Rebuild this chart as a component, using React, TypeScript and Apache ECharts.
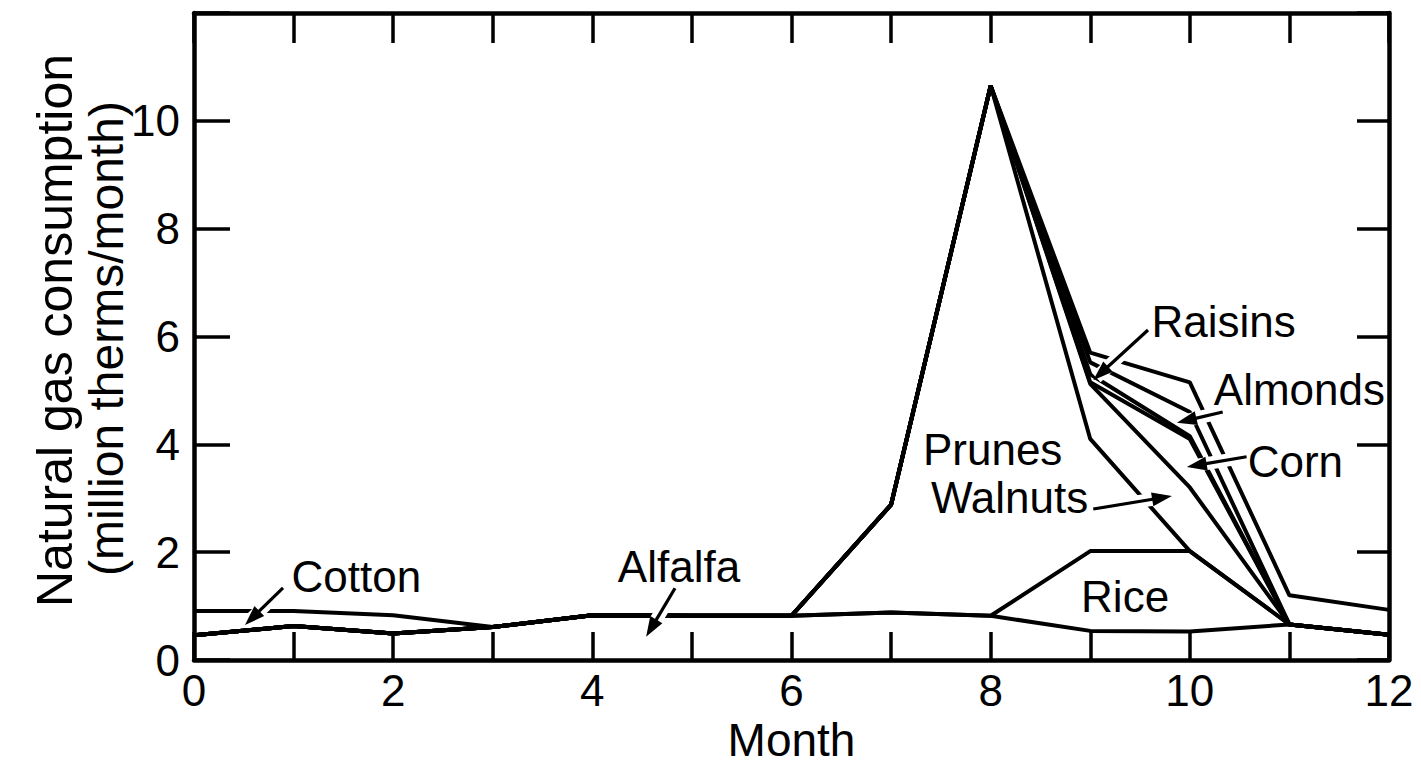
import React, { useEffect, useRef } from "react";
import * as echarts from "echarts";

// Month index (0..12)
const months = [0, 1, 2, 3, 4, 5, 6, 7, 8, 9, 10, 11, 12];

// Natural gas consumption by crop (million therms / month), stacked bottom to top
const alfalfa = [0.46, 0.63, 0.49, 0.61, 0.83, 0.82, 0.82, 0.88, 0.82, 0.54, 0.53, 0.66, 0.47];
const rice = [0, 0, 0, 0, 0, 0, 0, 0, 0, 1.48, 1.49, 0, 0];
const prunes = [0, 0, 0, 0, 0, 0, 0, 2.0, 9.83, 2.08, 0, 0, 0];
const walnuts = [0, 0, 0, 0, 0, 0, 0, 0, 0, 1.02, 1.18, 0, 0];
const corn = [0, 0, 0, 0, 0, 0, 0, 0, 0, 0.03, 0.9, 0, 0];
const raisins = [0, 0, 0, 0, 0, 0, 0, 0, 0, 0.15, 0.05, 0, 0];
const almonds = [0, 0, 0, 0, 0, 0, 0, 0, 0, 0.22, 0.45, 0, 0];
const cotton = [0.45, 0.28, 0.34, 0, 0, 0, 0, 0, 0, 0.18, 0.55, 0.54, 0.46];

const seriesNames = ["Alfalfa", "Rice", "Prunes", "Walnuts", "Corn", "Raisins", "Almonds", "Cotton"];
const seriesValues = [alfalfa, rice, prunes, walnuts, corn, raisins, almonds, cotton];

const xTickLabels = ["0", "2", "4", "6", "8", "10", "12"];
const yTickLabels = ["0", "2", "4", "6", "8", "10"];

const xTitle = "Month";
const yTitleLines = ["Natural gas consumption", "(million therms/month)"];

// Annotation labels placed in data coordinates [month, value]
const labelTexts = ["Cotton", "Alfalfa", "Prunes", "Walnuts", "Raisins", "Almonds", "Corn", "Rice"];
const labelAnchors: number[][] = [
  [1.63, 1.54],
  [4.87, 1.74],
  [8.02, 3.9],
  [8.19, 3.01],
  [10.34, 6.27],
  [11.1, 5.01],
  [11.06, 3.69],
  [9.35, 1.17],
];
// Arrows: [tailMonth, tailValue, tipMonth, tipValue]
const arrows: number[][] = [
  [0.894, 1.336, 0.512, 0.649],
  [4.83, 1.33, 4.54, 0.43],
  [9.03, 2.8, 9.82, 3.04],
  [9.58, 6.12, 9.03, 5.19],
  [10.33, 4.6, 9.87, 4.4],
  [10.57, 3.77, 9.97, 3.58],
];

const FONT = "'Liberation Sans', Arial, Helvetica, sans-serif";

export default function App() {
  const ref = useRef<HTMLDivElement>(null);

  useEffect(() => {
    if (!ref.current) return;
    const chart = echarts.init(ref.current, null, { renderer: "svg" });

    const black = "#000";
    const axisLineStyle = { color: black, width: 4.5 };
    const tickStyle = { color: black, width: 3.5 };

    // cumulative (stacked) top boundary of each band
    const running = months.map(() => 0);
    const cumulative = seriesValues.map((vals) =>
      vals.map((v, j) => {
        running[j] += v;
        return Math.round(running[j] * 1000) / 1000;
      })
    );

    chart.setOption({
      animation: false,
      backgroundColor: "#fff",
      grid: { left: 194, right: 32, top: 13, bottom: 118, containLabel: false },
      xAxis: [
        {
          type: "value",
          position: "bottom",
          min: 0,
          max: 12,
          interval: 1,
          axisLine: { show: true, onZero: false, lineStyle: axisLineStyle },
          axisTick: { show: true, inside: true, length: 28, lineStyle: tickStyle },
          axisLabel: {
            margin: 8,
            color: black,
            fontSize: 44,
            fontFamily: FONT,
            formatter: (v: number) => (xTickLabels.includes(String(v)) ? String(v) : ""),
          },
          splitLine: { show: false },
          name: xTitle,
          nameLocation: "middle",
          nameGap: 48,
          nameTextStyle: { color: black, fontSize: 46, fontFamily: FONT },
        },
        {
          type: "value",
          position: "top",
          min: 0,
          max: 12,
          interval: 1,
          axisLine: { show: true, onZero: false, lineStyle: axisLineStyle },
          axisTick: { show: true, inside: true, length: 30, lineStyle: tickStyle },
          axisLabel: { show: false },
          splitLine: { show: false },
        },
      ],
      yAxis: [
        {
          type: "value",
          position: "left",
          min: 0,
          max: 12,
          interval: 2,
          axisLine: { show: true, onZero: false, lineStyle: axisLineStyle },
          axisTick: { show: true, inside: true, length: 36, lineStyle: tickStyle },
          axisLabel: {
            margin: 14,
            color: black,
            fontSize: 44,
            fontFamily: FONT,
            formatter: (v: number) => (yTickLabels.includes(String(v)) ? String(v) : ""),
          },
          splitLine: { show: false },
        },
        {
          type: "value",
          position: "right",
          min: 0,
          max: 12,
          interval: 2,
          axisLine: { show: true, onZero: false, lineStyle: axisLineStyle },
          axisTick: { show: true, inside: true, length: 32, lineStyle: tickStyle },
          axisLabel: { show: false },
          splitLine: { show: false },
        },
      ],
      series: seriesNames.map((name, i) => ({
        name,
        type: "line",
        xAxisIndex: 0,
        yAxisIndex: 0,
        data: months.map((m, j) => [m, cumulative[i][j]]),
        showSymbol: false,
        symbol: "none",
        lineStyle: { color: black, width: 4 },
        z: 3,
      })),
    });

    const toPx = (p: number[]) =>
      chart.convertToPixel({ xAxisIndex: 0, yAxisIndex: 0 }, p) as number[];

    const graphics: any[] = [];

    // y-axis title (two rotated lines)
    const plotTop = toPx([0, 12])[1];
    const plotBottom = toPx([0, 0])[1];
    const midY = (plotTop + plotBottom) / 2;
    graphics.push({
      type: "text",
      x: 55,
      y: midY - 6,
      rotation: Math.PI / 2,
      style: { text: yTitleLines[0], fontSize: 50, fontFamily: FONT, fill: black, align: "center", verticalAlign: "middle" },
    });
    graphics.push({
      type: "text",
      x: 106,
      y: midY + 2,
      rotation: Math.PI / 2,
      style: { text: yTitleLines[1], fontSize: 48, fontFamily: FONT, fill: black, align: "center", verticalAlign: "middle" },
    });

    labelTexts.forEach((t, i) => {
      const [x, y] = toPx(labelAnchors[i]);
      graphics.push({
        type: "text",
        x,
        y,
        style: { text: t, fontSize: 44, fontFamily: FONT, fill: black, align: "center", verticalAlign: "middle" },
        z: 10,
      });
    });

    arrows.forEach((a) => {
      const [x1, y1] = toPx([a[0], a[1]]);
      const [x2, y2] = toPx([a[2], a[3]]);
      const dx = x2 - x1;
      const dy = y2 - y1;
      const len = Math.sqrt(dx * dx + dy * dy);
      const ux = dx / len;
      const uy = dy / len;
      const headL = 20;
      const headW = 7;
      const bx = x2 - ux * headL;
      const by = y2 - uy * headL;
      // white halo that cuts the curves where the arrow crosses them
      graphics.push({
        type: "line",
        shape: { x1: x1 + ux * 4, y1: y1 + uy * 4, x2: x2 - ux * 4, y2: y2 - uy * 4 },
        style: { stroke: "#fff", lineWidth: 13, lineCap: "butt" },
        z: 9,
      });
      graphics.push({
        type: "line",
        shape: { x1, y1, x2: bx + ux * 2, y2: by + uy * 2 },
        style: { stroke: black, lineWidth: 3.2 },
        z: 10,
      });
      graphics.push({
        type: "polygon",
        shape: {
          points: [
            [x2, y2],
            [bx - uy * headW, by + ux * headW],
            [bx + uy * headW, by - ux * headW],
          ],
        },
        style: { fill: black },
        z: 10,
      });
    });

    chart.setOption({ graphic: graphics });

    return () => chart.dispose();
  }, []);

  return (
    <div
      ref={ref}
      style={{ position: "fixed", left: 0, top: 0, width: 1421, height: 778, background: "#fff" }}
    />
  );
}
